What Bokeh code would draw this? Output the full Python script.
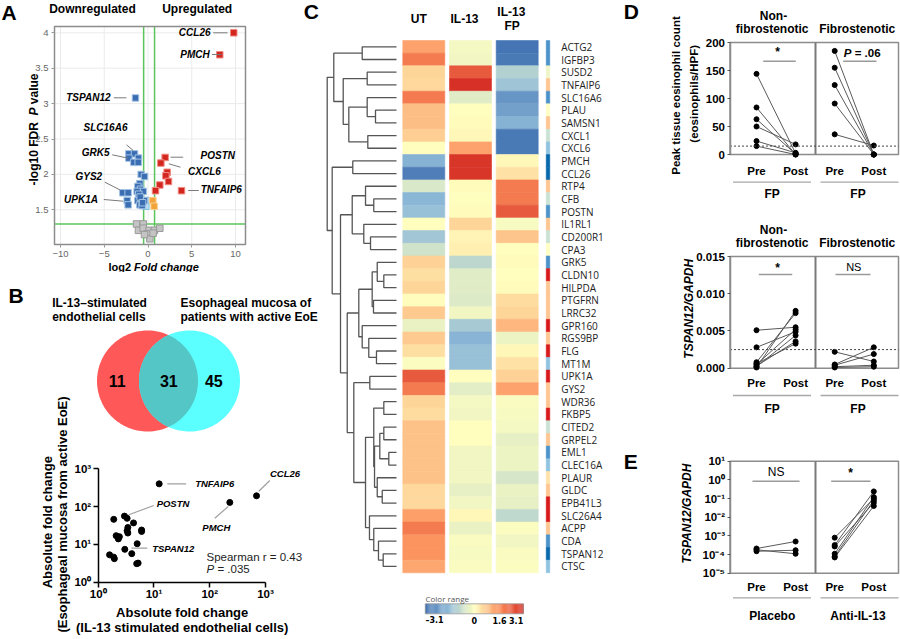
import numpy as np
from bokeh.plotting import figure
from bokeh.layouts import row, column
from bokeh.models import (Range1d, Label, FixedTicker, LinearColorMapper, ColumnDataSource,
                          NumeralTickFormatter)
from bokeh.core.properties import value
from bokeh.embed import file_html
from bokeh.resources import INLINE

FONT = "Liberation Sans"

# ---------------- DATA ----------------
# A: volcano plot (log2 fold change, -log10 FDR)
up_x = [9.8, 8.2, 1.96, 1.47, 2.19, 2.04, 2.34, 1.35, 0.86, 3.83]
up_y = [4.0, 3.69, 2.24, 2.16, 2.03, 1.98, 1.90, 1.85, 1.77, 1.77]
nsup_x = [0.55, 0.70]
nsup_y = [1.63, 1.55]
nsdn_x = [-0.21, -0.25]
nsdn_y = [1.63, 1.55]
dn_x = [-1.43, -2.19, -1.54, -2.19, -1.09, -1.62, -1.12, -0.78, -0.40, -0.93, -1.16, -0.86, -0.55,
        -1.24, -2.88, -2.27, -2.38, -2.27, -1.16, -0.93, -0.67, -0.40, -1.05, -0.90, -0.62]
dn_y = [3.08, 2.29, 2.29, 2.23, 2.23, 2.17, 2.17, 2.00, 1.97, 1.87, 1.83, 1.79, 1.76,
        1.76, 1.74, 1.74, 1.63, 1.57, 1.63, 1.57, 1.56, 1.63, 1.72, 1.68, 1.60]
grey_x = [-1.31, -0.55, -1.09, -0.55, 0.13, -0.10, 0.74, 1.35, 0.21, -0.40, 0.59]
grey_y = [1.30, 1.30, 1.21, 1.24, 1.21, 1.16, 1.21, 1.24, 1.09, 1.15, 1.17]
fc_thresholds = [-0.5, 0.75]
fdr_threshold = 1.3
a_xticks = [-10, -5, 0, 5, 10]
a_yticks = [1.5, 2, 2.5, 3, 3.5, 4]

# B: Venn counts and scatter of absolute fold changes
venn_counts = [11, 31, 45]
venn_titles = [["IL-13\u2013stimulated", "endothelial cells"],
               ["Esophageal mucosa of", "patients with active EoE"]]
b_x = [12.4, 690, 229, 2.96, 3.3, 1.9, 4.3, 3.4, 3.3, 6.0, 6.0, 3.4, 2.1, 2.4, 2.3, 5.0, 3.0, 4.0, 1.6, 1.9, 1.95, 4.9, 5.2]
b_y = [400, 193, 129, 56, 49, 46, 37, 28, 23, 24, 22, 20, 17, 16, 14, 10.4, 7.4, 5.7, 5.3, 4.6, 4.2, 3.1, 3.2]
b_ticks = [1, 10, 100, 1000]

# C: heatmap
genes = ["ACTG2", "IGFBP3", "SUSD2", "TNFAIP6", "SLC16A6", "PLAU", "SAMSN1", "CXCL1", "CXCL6", "PMCH",
         "CCL26", "RTP4", "CFB", "POSTN", "IL1RL1", "CD200R1", "CPA3", "GRK5", "CLDN10", "HILPDA",
         "PTGFRN", "LRRC32", "GPR160", "RGS9BP", "FLG", "MT1M", "UPK1A", "GYS2", "WDR36", "FKBP5",
         "CITED2", "GRPEL2", "EML1", "CLEC16A", "PLAUR", "GLDC", "EPB41L3", "SLC26A4", "ACPP", "CDA",
         "TSPAN12", "CTSC"]
conditions = ["UT", "IL-13", "IL-13 FP"]
ut_vals = [1.3, 1.9, 0.6, 0.55, 1.9, 0.9, 0.9, 0.7, 0.02, -1.8, -2.9, -0.55, -1.7, -1.5, 0.02, -1.35, -0.7,
           0.65, 0.45, 0.6, 0.03, 0.75, -0.3, 0.75, 0.45, -0.05, 2.4, 1.9, 0.6, 0.5, 0.85, 0.85, 0.85, 0.85,
           0.85, 0.55, 0.55, 1.35, 1.9, 1.5, 1.5, 1.25]
il13_vals = [-0.15, -0.2, 2.4, 3.1, -0.45, 0.0, 0.05, 0.1, 1.3, 3.0, 3.0, 0.05, -0.02, 0.05, 0.6, 0.15, 0.2,
             -0.95, -0.45, -0.45, -0.5, -0.2, -1.3, -1.75, -1.5, -1.5, 0.0, -0.4, -0.15, -0.2, 0.0, 0.02,
             -0.2, -0.2, -0.2, -0.35, -0.2, 0.1, -0.3, -0.08, -0.1, -0.08]
fp_vals = [-3.1, -3.0, -1.1, -1.4, -2.4, -2.2, -1.8, -3.0, -3.0, 0.1, 0.4, 1.9, 1.9, 2.4, -0.1, 0.8, 0.02,
           0.05, 0.02, 0.05, 0.5, 0.6, 1.0, -0.25, 0.1, 0.4, 0.65, 1.3, -0.08, -0.12, -0.15, -0.35, -0.25,
           -0.25, -0.6, -0.3, -0.35, -0.9, -0.05, -0.2, -0.08, -0.05]
side_level = [1, 1, 4, 7, 1, 5, 7, 3, 2, 0, 0, 7, 3, 1, 7, 3, 5, 1, 8, 7, 7, 7, 8, 7, 8, 2, 8, 7, 7, 8, 3, 7,
              1, 2, 6, 7, 8, 8, 7, 1, 0, 2]
merges = [("ACTG2", "IGFBP3", 0.495), ("SUSD2", "TNFAIP6", 0.423), ("PLAU", "SAMSN1", 0.303),
          ("SLC16A6", "n2", 0.423), ("CXCL1", "CXCL6", 0.414), ("n3", "n4", 0.688), ("n1", "n5", 0.769),
          ("n0", "n6", 0.905), ("PMCH", "CCL26", 0.631), ("CFB", "POSTN", 0.328), ("RTP4", "n9", 0.447),
          ("CD200R1", "CPA3", 0.375), ("IL1RL1", "n11", 0.472), ("n10", "n12", 0.639),
          ("CLDN10", "HILPDA", 0.183), ("GRK5", "n14", 0.278), ("PTGFRN", "LRRC32", 0.332),
          ("n15", "n16", 0.351), ("FLG", "MT1M", 0.289), ("RGS9BP", "n18", 0.40), ("GPR160", "n19", 0.495),
          ("n17", "n20", 0.544), ("UPK1A", "GYS2", 0.385), ("WDR36", "FKBP5", 0.183),
          ("CITED2", "GRPEL2", 0.183), ("EML1", "CLEC16A", 0.111), ("n24", "n25", 0.241),
          ("GLDC", "EPB41L3", 0.206), ("PLAUR", "n27", 0.278), ("n26", "n28", 0.317), ("n23", "n29", 0.328),
          ("TSPAN12", "CTSC", 0.192), ("CDA", "n31", 0.26), ("ACPP", "n32", 0.328), ("SLC26A4", "n33", 0.39),
          ("n30", "n34", 0.447), ("n22", "n35", 0.616), ("n21", "n36", 0.711), ("n13", "n37", 0.808),
          ("n8", "n38", 0.928), ("n7", "n39", 1.0)]
cbar_ticks = [-3.1, 0, 1.6, 3.1]

# D: eosinophils and TSPAN12 before/after FP
d1_nf_pre = [144, 84, 63, 50, 24, 15]
d1_nf_post = [2, 0, 1, 18, 3, 0]
d1_f_pre = [185, 155, 124, 91, 36]
d1_f_post = [0, 0, 0, 0, 16]
d1_cut = 15
d1_ticks = [0, 50, 100, 150, 200]
d2_nf_pre = [0.0051, 0.0028, 0.0008, 0.0005, 0.0003, 0.0002, 0.0001, 0.0006]
d2_nf_post = [0.0055, 0.0049, 0.0074, 0.0052, 0.0036, 0.0044, 0.0077, 0.0033]
d2_f_pre = [0.0022, 0.0005, 0.0004, 0.0002, 0.0001]
d2_f_post = [0.0009, 0.0028, 0.0019, 0.0004, 0.0002]
d2_cut = 0.0025
d2_ticks = [0, 0.005, 0.010, 0.015]
# E: placebo vs anti-IL-13
e_pl_pre = [2.1e-4, 1.5e-4, 1.8e-4]
e_pl_post = [5.0e-4, 1.7e-4, 1.1e-4]
e_an_pre = [8e-4, 3.2e-4, 2.7e-4, 1.1e-4, 8e-5, 7e-5]
e_an_post = [0.1, 0.24, 0.06, 0.12, 0.08, 0.04]
e_ticks = [1e-5, 1e-4, 1e-3, 1e-2, 1e-1, 1, 10]
timepoints = ["Pre", "Post"]


# ---------------- helpers ----------------
def lin(p0, v0, p1, v1, a, log=False):
    if log:
        v0, v1 = np.log10(v0), np.log10(v1)
    v = v0 + (np.asarray(a, dtype=float) - p0) * (v1 - v0) / (p1 - p0)
    return 10 ** v if log else v


class Fr:
    """Page-pixel box of a figure canvas (= its frame) plus a pixel->data calibration."""
    def __init__(s, l, t, r, b, xcal, ycal, xlog=False, ylog=False):
        s.l, s.t, s.r, s.b = l, t, r, b
        s.xcal, s.ycal, s.xlog, s.ylog = xcal, ycal, xlog, ylog

    def X(s, a):
        v = lin(*s.xcal, a, s.xlog)
        return v.tolist() if np.ndim(v) else float(v)

    def Y(s, a):
        v = lin(*s.ycal, a, s.ylog)
        return v.tolist() if np.ndim(v) else float(v)


def mk(fr, xaxis=True, yaxis=True):
    p = figure(width=fr.r - fr.l, height=fr.b - fr.t,
               x_range=Range1d(fr.X(fr.l), fr.X(fr.r)), y_range=Range1d(fr.Y(fr.b), fr.Y(fr.t)),
               x_axis_type="log" if fr.xlog else "linear", y_axis_type="log" if fr.ylog else "linear",
               x_axis_location="below" if xaxis else None, y_axis_location="left" if yaxis else None,
               min_border_left=0, min_border_right=0, min_border_top=0, min_border_bottom=0,
               output_backend="svg", toolbar_location=None, title=None)
    p.background_fill_color = "white"
    p.border_fill_color = "white"
    p.outline_line_color = None
    p.grid.visible = False
    return p


def T(p, fr, ax, ay, text, size=12, style="bold", align="center", color="black", angle=0.0, font=FONT):
    p.add_layout(Label(x=fr.X(ax), y=fr.Y(ay), text=text, text_font=font, text_font_size=f"{size}px",
                       text_font_style=style, text_align=align, text_baseline="middle",
                       text_color=color, angle=angle))


def Ln(p, fr, ax0, ay0, ax1, ay1, color="#999999", width=1.2, dash="solid"):
    p.segment(x0=[fr.X(ax0)], y0=[fr.Y(ay0)], x1=[fr.X(ax1)], y1=[fr.Y(ay1)],
              line_color=color, line_width=width, line_dash=dash)


def axstyle(ax, size="11.5px", style="bold", color="black"):
    ax.major_label_text_font = FONT
    ax.major_label_text_font_size = size
    ax.major_label_text_font_style = style
    ax.major_label_text_color = color
    ax.minor_tick_line_color = None


# ---------------- A ----------------
fA = Fr(0, 0, 322, 272, (60, -10, 235, 10), (209.3, 1.5, 32.3, 4.0))
pA = mk(fA)
bxl, bxr, byb, byt = fA.X(54), fA.X(245), fA.Y(244), fA.Y(26)
pA.segment(x0=a_xticks, y0=[byb] * len(a_xticks), x1=a_xticks, y1=[byt] * len(a_xticks),
           line_color="#ebebeb", line_width=1)
pA.segment(x0=[bxl] * len(a_yticks), y0=a_yticks, x1=[bxr] * len(a_yticks), y1=a_yticks,
           line_color="#ebebeb", line_width=1)
pA.segment(x0=fc_thresholds, y0=[byb] * 2, x1=fc_thresholds, y1=[byt] * 2, line_color="#5cc45c", line_width=1.5)
pA.segment(x0=[bxl], y0=[fdr_threshold], x1=[bxr], y1=[fdr_threshold], line_color="#5cc45c", line_width=1.5)
pA.quad(left=[bxl], right=[bxr], bottom=[byb], top=[byt], fill_color=None, line_color="#8c8c8c", line_width=1.5)
xa, ya = pA.xaxis[0], pA.yaxis[0]
for ax in (xa, ya):
    axstyle(ax, size="9.5px", style="normal", color="#666666")
    ax.axis_line_color = None
    ax.major_tick_line_color = "#999999"
    ax.major_tick_out = 3
    ax.major_tick_in = 0
    ax.major_label_standoff = 3
xa.fixed_location = byb
xa.bounds = (bxl, bxr)
xa.ticker = FixedTicker(ticks=a_xticks)
ya.fixed_location = bxl
ya.bounds = (byb, byt)
ya.ticker = FixedTicker(ticks=a_yticks)
ya.major_label_overrides = {t: ("%g" % t) for t in a_yticks}
sq = dict(marker="square", size=6.5, line_width=1)
pA.scatter(grey_x, grey_y, fill_color="#c4c4c4", line_color="#9a9a9a", **sq)
pA.scatter(nsdn_x, nsdn_y, fill_color="#b9dff3", line_color="#80c0e2", **sq)
pA.scatter(dn_x, dn_y, fill_color="#3b6db2", line_color="#a3c3e4", **sq)
pA.scatter(nsup_x, nsup_y, fill_color="#f2a33a", line_color="#f8d090", **sq)
pA.scatter(up_x, up_y, fill_color="#d3261e", line_color="#ef8c82", **sq)
a_labels = [("CCL26", 210, 32.3, "right", (212.7, 32.3, 227, 32.3)),
            ("PMCH", 209.3, 54, "right", (211.5, 54, 221, 54)),
            ("TSPAN12", 110, 97.3, "right", (113.3, 97.3, 126, 97.3)),
            ("SLC16A6", 105, 126.7, "center", (126, 144.3, 132.7, 150)),
            ("GRK5", 95.2, 152, "center", (111.7, 154.3, 127.7, 157.7)),
            ("GYS2", 88.3, 176, "center", (104.3, 181.7, 119.3, 189.3)),
            ("UPK1A", 80.5, 198.7, "center", (103.3, 199, 122.7, 200.7)),
            ("POSTN", 217.3, 155, "center", (170, 156.7, 182.7, 156.7)),
            ("CXCL6", 204, 170.7, "center", (168.3, 163.3, 180, 166.7)),
            ("TNFAIP6", 220.8, 189.3, "center", (187.7, 190, 198.3, 190))]
for txt, lx, ly, al, ln in a_labels:
    T(pA, fA, lx, ly, txt, size=10, style="bold italic", align=al)
    Ln(pA, fA, *ln, color="#7a7a7a", width=1)
T(pA, fA, 1, 11.5, "A", size=21, align="left")
T(pA, fA, 303.3, 10.8, "C", size=21, align="left")
T(pA, fA, 92, 8.5, "Downregulated", size=12)
T(pA, fA, 196.7, 8.5, "Upregulated", size=12)
T(pA, fA, 108, 266.7, "log2", size=11, align="left")
T(pA, fA, 133.6, 266.7, "Fold change", size=11, style="bold italic", align="left")
T(pA, fA, 33.3, 185, "-log10 FDR", size=12, align="left", angle=np.pi / 2)
T(pA, fA, 33.3, 115, "P", size=12, style="bold italic", align="left", angle=np.pi / 2)
T(pA, fA, 33.3, 103.7, "value", size=12, align="left", angle=np.pi / 2)

# ---------------- B ----------------
fB = Fr(0, 272, 322, 639, (97.7, 1, 265, 1000), (581.7, 1, 468.3, 1000), xlog=True, ylog=True)
pB = mk(fB)
dec_labels = {1: "10\u2070", 10: "10\u00b9", 100: "10\u00b2", 1000: "10\u00b3"}
for ax in (pB.xaxis[0], pB.yaxis[0]):
    axstyle(ax, size="11.5px")
    ax.fixed_location = 1
    ax.ticker = FixedTicker(ticks=b_ticks)
    ax.major_label_overrides = dec_labels
    ax.bounds = (1, 1000)
    ax.axis_line_color = "black"
    ax.axis_line_width = 1.5
    ax.major_tick_line_color = "black"
    ax.major_tick_line_width = 1.5
    ax.major_tick_out = 5
    ax.major_tick_in = 0
pB.xaxis[0].major_label_standoff = 1
pB.yaxis[0].major_label_standoff = 2
# Venn diagram
vr, vcy, vc1, vc2 = 50.5, 380.5, 147, 189
th = np.linspace(0, 2 * np.pi, 160)
pB.patch(fB.X(vc1 + vr * np.cos(th)), fB.Y(vcy + vr * np.sin(th)), fill_color="#ff5858", line_color=None)
pB.patch(fB.X(vc2 + vr * np.cos(th)), fB.Y(vcy + vr * np.sin(th)), fill_color="#5cffff", line_color=None)
half = (vc2 - vc1) / 2
alpha = np.arccos(half / vr)
t1 = np.linspace(-alpha, alpha, 60)
t2 = np.linspace(np.pi - alpha, np.pi + alpha, 60)
lx = np.concatenate([vc1 + vr * np.cos(t1), vc2 + vr * np.cos(t2)])
ly = np.concatenate([vcy + vr * np.sin(t1), vcy + vr * np.sin(t2)])
pB.patch(fB.X(lx), fB.Y(ly), fill_color="#53c6c5", line_color=None)
for cnt, cx in zip(venn_counts, [116.7, 168.3, 213.3]):
    T(pB, fB, cx, vcy, str(cnt), size=16)
for lines, tx in zip(venn_titles, [51.7, 180]):
    T(pB, fB, tx, 302.7, lines[0], size=12, align="left")
    T(pB, fB, tx, 316.3, lines[1], size=12, align="left")
T(pB, fB, 8, 295, "B", size=21, align="left")
# scatter
pB.scatter(b_x, b_y, size=6, color="black")
b_labels = [("TNFAIP6", 214.2, 483.3, (166.7, 483.3, 185.7, 483.3)),
            ("CCL26", 284.5, 473.3, (258.3, 490.7, 269.3, 480)),
            ("POSTN", 172.5, 502.7, (128.3, 514.3, 153.3, 505)),
            ("PMCH", 215.8, 526.7, (214.3, 517.7, 227.7, 506)),
            ("TSPAN12", 172.7, 547.7, (131, 547.7, 146.7, 547.7))]
for txt, lx_, ly_, ln in b_labels:
    T(pB, fB, lx_, ly_, txt, size=9.5, style="bold italic")
    Ln(pB, fB, *ln, color="#a0a0a0", width=1.2)
T(pB, fB, 206, 556, "Spearman r = 0.43", size=11.5, style="normal", align="left", color="#222222")
T(pB, fB, 206, 568.3, "P", size=11.5, style="italic", align="left", color="#222222")
T(pB, fB, 216.9, 568.3, "= .035", size=11.5, style="normal", align="left", color="#222222")
T(pB, fB, 181.7, 611.7, "Absolute fold change", size=13)
T(pB, fB, 181.7, 626.7, "(IL-13 stimulated endothelial cells)", size=13)
T(pB, fB, 46.7, 521.7, "Absolute fold change", size=13, angle=np.pi / 2)
T(pB, fB, 61.7, 514, "(Esophageal mucosa from active EoE)", size=13, angle=np.pi / 2)

# ---------------- C ----------------
fC = Fr(322, 0, 640, 639, (423.3, 0, 470, 1), (46.34, 0, 59.014, 1))
pC = mk(fC, xaxis=False, yaxis=False)
stops = [(-3.1, "#4575b4"), (-1.6, "#91bcd9"), (0.0, "#ffffbf"), (1.6, "#fc8d59"), (3.1, "#d73027")]
sv = np.array([s[0] for s in stops])
sc = np.array([[int(c[i:i + 2], 16) for i in (1, 3, 5)] for _, c in stops], dtype=float)
grid = np.linspace(-3.1, 3.1, 256)
pal = ["#%02x%02x%02x" % tuple(int(round(np.interp(g, sv, sc[:, k]))) for k in range(3)) for g in grid]
mapper = LinearColorMapper(palette=pal, low=-3.1, high=3.1)
hx, hy, hv = [], [], []
for ci, series in enumerate([ut_vals, il13_vals, fp_vals]):
    for ri, v in enumerate(series):
        hx.append(ci)
        hy.append(ri)
        hv.append(v)
hsrc = ColumnDataSource(dict(x=hx, y=hy, v=hv))
pC.rect(x="x", y="y", width=42 / 46.7, height=1.0, source=hsrc,
        fill_color={"field": "v", "transform": mapper}, line_color={"field": "v", "transform": mapper},
        line_width=0.6)
side_pal = ["#0868ac", "#4a92c9", "#90c3e0", "#c9e2d4", "#eff5c6", "#ffffc4", "#fee3a8", "#fdc590", "#d7191c"]
side_map = LinearColorMapper(palette=side_pal, low=-0.5, high=8.5)
ssrc = ColumnDataSource(dict(y=list(range(len(genes))), lv=side_level))
pC.rect(x=fC.X(547.5), y="y", width=3.6 / 46.7, height=1.0, source=ssrc,
        fill_color={"field": "lv", "transform": side_map}, line_color={"field": "lv", "transform": side_map},
        line_width=0.5)
pC.text(x=fC.X(560.7), y=list(range(len(genes))), text=genes, text_font=value("Open Sans"),
        text_font_size="10px", text_align="left", text_baseline="middle", text_color="#222222")
# dendrogram
leaf_x = fC.X(396)
dw = leaf_x - fC.X(326.7)
pos = {g: (leaf_x, float(i)) for i, g in enumerate(genes)}
dxs, dys = [], []
for k, (a, b, hgt) in enumerate(merges):
    xa_, ya_ = pos[a]
    xb_, yb_ = pos[b]
    xn = leaf_x - hgt * dw
    dxs.append([xa_, xn, xn, xb_])
    dys.append([ya_, ya_, yb_, yb_])
    pos[f"n{k}"] = (xn, (ya_ + yb_) / 2)
pC.multi_line(dxs, dys, line_color="#555555", line_width=1.3)
# headers
T(pC, fC, 418.3, 18.3, "UT", size=12)
T(pC, fC, 464, 18.3, "IL-13", size=12)
T(pC, fC, 510.8, 11, "IL-13", size=12)
T(pC, fC, 511.7, 25, "FP", size=12)
T(pC, fC, 623.3, 10.5, "D", size=21, align="left")
T(pC, fC, 623.3, 460.5, "E", size=21, align="left")
# color bar
cbL, cbR = fC.X(425), fC.X(522.7)
cb_v = np.linspace(-3.1, 3.1, 90)
cb_x = (cbL + (cb_v + 3.1) / 6.2 * (cbR - cbL)).tolist()
cby = fC.Y(608.3)
pC.rect(x="x", y=cby, width=(cbR - cbL) / 90 * 1.15, height=10 / 12.674,
        fill_color={"field": "v", "transform": mapper}, line_color=None,
        source=ColumnDataSource(dict(x=cb_x, v=cb_v.tolist())))
pC.rect(x=(cbL + cbR) / 2, y=cby, width=cbR - cbL, height=10 / 12.674, fill_color=None,
        line_color="#9a9a9a", line_width=0.8)
T(pC, fC, 425, 598, "Color range", size=8, style="normal", align="left", color="#555555", font="Open Sans")
for tv in cbar_ticks:
    txp = 425 + (tv + 3.1) / 6.2 * 97.7
    al = "left" if tv == cbar_ticks[0] else ("right" if tv == cbar_ticks[-1] else "center")
    T(pC, fC, txp, 620, ("\u2013" + str(abs(tv))) if tv < 0 else str(tv), size=8, align=al, font="DejaVu Sans")


# ---------------- D / E ----------------
def pair_panel(fr, top, bottom, groups, yticks, standoff):
    p = mk(fr)
    bx0, bx1, bdiv = fr.X(729.5), fr.X(898), fr.X(815)
    by0, by1 = fr.Y(bottom), fr.Y(top)
    p.quad(left=[bx0], right=[bx1], bottom=[by0], top=[by1], fill_color=None,
           line_color="#8c8c8c", line_width=1.5)
    p.segment(x0=[bdiv], y0=[by0], x1=[bdiv], y1=[by1], line_color="#7a7a7a", line_width=2)
    xa = p.xaxis[0]
    axstyle(xa)
    xa.fixed_location = by0
    xa.ticker = FixedTicker(ticks=[0, 1, 2, 3])
    xa.major_label_overrides = {0: timepoints[0], 1: timepoints[1], 2: timepoints[0], 3: timepoints[1]}
    xa.axis_line_color = None
    xa.major_tick_line_color = None
    xa.major_tick_out = 0
    xa.major_tick_in = 0
    xa.major_label_standoff = standoff
    ya = p.yaxis[0]
    axstyle(ya)
    ya.fixed_location = bx0
    ya.bounds = (by0, by1)
    ya.ticker = FixedTicker(ticks=yticks)
    ya.axis_line_color = "#8c8c8c"
    ya.axis_line_width = 1.5
    ya.major_tick_line_color = "#555555"
    ya.major_tick_out = 3
    ya.major_tick_in = 0
    ya.major_label_standoff = 2
    for gi, (pre, post) in enumerate(groups):
        n = len(pre)
        p.segment(x0=[2 * gi] * n, y0=pre, x1=[2 * gi + 1] * n, y1=post, line_color="#5a5a5a", line_width=1)
        p.scatter(x=[2 * gi] * n + [2 * gi + 1] * n, y=pre + post, size=5, color="black")
    return p


xcal_d = (756, 0, 873.3, 3)
fD1 = Fr(640, 0, 900, 215, xcal_d, (154, 0, 42, 200))
fD2 = Fr(640, 215, 900, 428, xcal_d, (367.7, 0, 256, 0.015))
fE = Fr(640, 428, 900, 639, xcal_d, (572.7, 1e-5, 460.7, 10), ylog=True)
pD1 = pair_panel(fD1, 42, 154, [(d1_nf_pre, d1_nf_post), (d1_f_pre, d1_f_post)], d1_ticks, 10)
pD2 = pair_panel(fD2, 256, 367.7, [(d2_nf_pre, d2_nf_post), (d2_f_pre, d2_f_post)], d2_ticks, 9)
pE = pair_panel(fE, 460.7, 572.7, [(e_pl_pre, e_pl_post), (e_an_pre, e_an_post)], e_ticks, 8)
pD2.yaxis[0].formatter = NumeralTickFormatter(format="0.000")
pE.yaxis[0].major_label_overrides = {1e-5: "10\u207b\u2075", 1e-4: "10\u207b\u2074", 1e-3: "10\u207b\u00b3",
                                     1e-2: "10\u207b\u00b2", 1e-1: "10\u207b\u00b9", 1: "10\u2070", 10: "10\u00b9"}
for p, fr, cut in ((pD1, fD1, d1_cut), (pD2, fD2, d2_cut)):
    p.segment(x0=[fr.X(729.5)], y0=[cut], x1=[fr.X(898)], y1=[cut], line_color="#444444",
              line_width=1, line_dash="2 2")

# headers
for p, fr, top in ((pD1, fD1, 42), (pD2, fD2, 256)):
    T(p, fr, 773, top - 27, "Non-", size=12)
    T(p, fr, 771.7, top - 13.5, "fibrostenotic", size=12)
    T(p, fr, 856.7, top - 13.5, "Fibrostenotic", size=12)

# group underlines and group labels
for p, fr, yl, yt, labs in ((pD1, fD1, 181.7, 193.3, ("FP", "FP")), (pD2, fD2, 395, 408.3, ("FP", "FP")),
                            (pE, fE, 597.3, 615.7, ("Placebo", "Anti-IL-13"))):
    Ln(p, fr, 732.5, yl, 810.5, yl, color="#a8a8a8", width=1.3)
    Ln(p, fr, 820, yl, 898, yl, color="#a8a8a8", width=1.3)
    T(p, fr, 771.7, yt, labs[0], size=12)
    T(p, fr, 857.5, yt, labs[1], size=12)

# significance
T(pD1, fD1, 777, 51, "*", size=12)
Ln(pD1, fD1, 762.7, 60.7, 795.3, 60.7, color="#9a9a9a", width=1.5)
T(pD1, fD1, 851, 52, "P", size=11.5, style="bold italic", align="right")
T(pD1, fD1, 854.2, 52, "= .06", size=11.5, align="left")
Ln(pD1, fD1, 842.7, 60.7, 876, 60.7, color="#9a9a9a", width=1.5)
T(pD2, fD2, 777, 267, "*", size=12)
Ln(pD2, fD2, 758.3, 274, 791.7, 274, color="#9a9a9a", width=1.5)
T(pD2, fD2, 853.3, 266.7, "NS", size=11, style="normal")
Ln(pD2, fD2, 835, 274, 870, 274, color="#9a9a9a", width=1.5)
T(pE, fE, 775.7, 471.7, "NS", size=12, style="normal")
Ln(pE, fE, 752, 480.7, 799, 480.7, color="#9a9a9a", width=1.5)
T(pE, fE, 850, 472, "*", size=12)
Ln(pE, fE, 830.7, 480.7, 870, 480.7, color="#9a9a9a", width=1.5)

# y titles
T(pD1, fD1, 675, 95, "Peak tissue eosinophil count", size=11.5, angle=np.pi / 2)
T(pD1, fD1, 693, 93.3, "(eosinophils/HPF)", size=11.5, angle=np.pi / 2)
T(pD2, fD2, 688, 308.3, "TSPAN12/GAPDH", size=12, style="bold italic", angle=np.pi / 2)
T(pE, fE, 686.7, 513, "TSPAN12/GAPDH", size=12, style="bold italic", angle=np.pi / 2)

layout = row(column(pA, pB), pC, column(pD1, pD2, pE))
open("out.html", "w").write(file_html(layout, INLINE, "Figure"))
